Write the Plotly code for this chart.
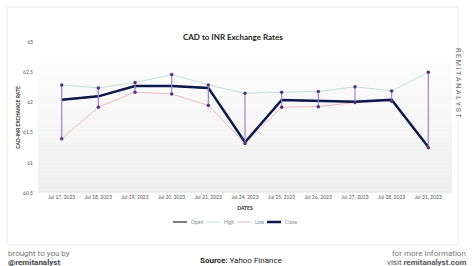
import plotly.graph_objects as go

dates = ["Jul 17, 2023", "Jul 18, 2023", "Jul 19, 2023", "Jul 20, 2023", "Jul 21, 2023",
         "Jul 24, 2023", "Jul 25, 2023", "Jul 26, 2023", "Jul 27, 2023", "Jul 28, 2023",
         "Jul 31, 2023"]
high = [62.29, 62.24, 62.33, 62.46, 62.29, 62.15, 62.17, 62.18, 62.26, 62.19, 62.50]
low = [61.40, 61.92, 62.17, 62.14, 61.95, 61.32, 61.92, 61.93, 62.00, 62.02, 61.25]
close = [62.045, 62.10, 62.27, 62.27, 62.24, 61.34, 62.04, 62.02, 62.01, 62.045, 61.26]
open_ = [62.045, 62.10, 62.27, 62.27, 62.24, 61.34, 62.04, 62.02, 62.01, 62.045, 61.26]
series_names = ["Open", "High", "Low", "Close"]

W, H = 474, 266
L, R, T, B = 38, 22, 42, 73
PW, PH = W - L - R, H - T - B


def px(x):
    return (x - L) / PW


def py(y):
    return (H - B - y) / PH


colors = {"Open": "#555555", "High": "#bfe0d6", "Low": "#eab8bd", "Close": "#0c1a4b"}
widths = {"Open": 1.5, "High": 1, "Low": 1, "Close": 2.5}
values = {"Open": open_, "High": high, "Low": low, "Close": close}

fig = go.Figure()
for nm in ["High", "Low", "Open", "Close"]:
    fig.add_trace(go.Scatter(x=dates, y=values[nm], name=nm, mode="lines", showlegend=False,
                             line=dict(color=colors[nm], width=widths[nm])))

cx, cy = [], []
for d, h, lo in zip(dates, high, low):
    cx += [d, d, None]
    cy += [h, lo, None]
fig.add_trace(go.Scatter(x=cx, y=cy, mode="lines+markers", showlegend=False,
                         line=dict(color="#9f80cc", width=1.2),
                         marker=dict(color="#55347f", size=3.5)))

shapes = []
shapes.append(dict(type="rect", xref="paper", yref="paper",
                   x0=px(7), x1=px(458), y0=py(245), y1=py(7),
                   line=dict(color="#ececec", width=1), fillcolor="white", layer="below"))
n = 40
for i in range(n):
    t = i / (n - 1)
    c = int(round(255 - 17 * t))
    shapes.append(dict(type="rect", xref="paper", yref="paper", x0=0, x1=1,
                       y0=1 - (i + 1) / n, y1=1 - i / n,
                       line=dict(width=0), fillcolor=f"rgb({c},{c},{c})", layer="below"))

ann = []
# custom legend
leg_x = [173, 206, 237, 267]
leg_len = 14
for nm, lx in zip(series_names, leg_x):
    shapes.append(dict(type="line", xref="paper", yref="paper", x0=px(lx), x1=px(lx + leg_len),
                       y0=py(222), y1=py(222), line=dict(color=colors[nm], width=widths[nm])))
    ann.append(dict(text=nm, x=px(lx + leg_len + 1.5), y=py(222), xref="paper", yref="paper",
                    xanchor="left", yanchor="middle", showarrow=False,
                    font=dict(family="Lato", size=5, color="#888")))

ann.append(dict(text="<b>CAD to INR Exchange Rates</b>", x=px(233), y=py(30), xref="paper", yref="paper",
                showarrow=False, font=dict(family="Lato", size=8, color="#222")))
ann.append(dict(text="R E M I T A N A L Y S T", x=px(464), y=py(46), xref="paper", yref="paper",
                textangle=90, showarrow=False, font=dict(family="Roboto", size=7, color="#666")))
ann.append(dict(text="brought to you by", x=px(6), y=py(253), xref="paper", yref="paper",
                xanchor="left", yanchor="middle", showarrow=False,
                font=dict(family="Roboto", size=8, color="#777")))
ann.append(dict(text="<b>@remitanalyst</b>", x=px(6), y=py(262), xref="paper", yref="paper",
                xanchor="left", yanchor="middle", showarrow=False,
                font=dict(family="Roboto", size=8, color="#444")))
ann.append(dict(text="<b>Source:</b> Yahoo Finance", x=px(241), y=py(260), xref="paper", yref="paper",
                yanchor="middle", showarrow=False, font=dict(family="Roboto", size=8, color="#222")))
ann.append(dict(text="for more information", x=px(468), y=py(253), xref="paper", yref="paper",
                xanchor="right", yanchor="middle", showarrow=False,
                font=dict(family="Roboto", size=8, color="#777")))
ann.append(dict(text="visit <b>remitanalyst.com</b>", x=px(468), y=py(262), xref="paper", yref="paper",
                xanchor="right", yanchor="middle", showarrow=False,
                font=dict(family="Roboto", size=8, color="#555")))

fig.update_layout(
    width=W, height=H,
    margin=dict(l=L, r=R, t=T, b=B, pad=0),
    paper_bgcolor="white", plot_bgcolor="rgba(0,0,0,0)",
    font=dict(family="Lato", size=5, color="#555"),
    shapes=shapes, annotations=ann,
    showlegend=False,
)
fig.update_xaxes(type="category", showgrid=False, zeroline=False, showline=False,
                 tickfont=dict(size=5, color="#555"), ticks="",
                 title=dict(text="<b>DATES</b>", font=dict(size=5, color="#222"), standoff=7))
fig.update_yaxes(range=[60.5, 63], dtick=0.5, showgrid=False, zeroline=False, showline=False,
                 tickfont=dict(size=5, color="#555"), ticks="", ticklabelstandoff=4,
                 title=dict(text="<b>CAD-INR EXCHANGE RATE</b>", font=dict(size=5, color="#222"), standoff=2))

fig.write_html("out.html")
